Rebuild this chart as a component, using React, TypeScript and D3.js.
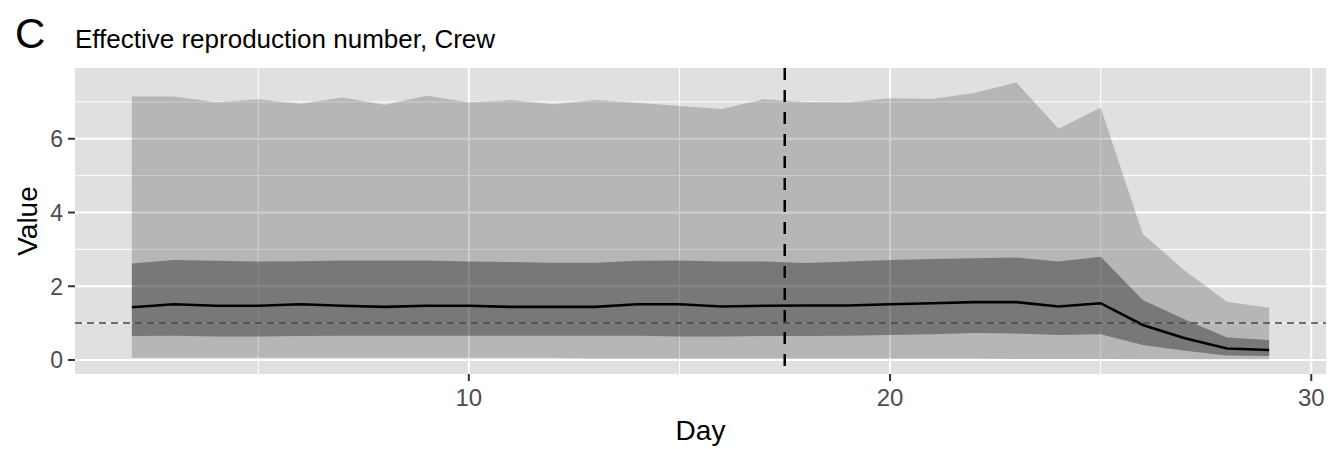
import React from 'react'
import { scaleLinear, area, line, range } from 'd3'

// days and posterior summaries of Rt
const days = range(2, 30)
const outerUpper = [7.15, 7.15, 6.99, 7.07, 6.95, 7.12, 6.92, 7.17, 6.99, 7.05, 6.94, 7.05, 6.98, 6.89, 6.81, 7.07, 7.0, 6.99, 7.1, 7.08, 7.24, 7.53, 6.27, 6.85, 3.42, 2.42, 1.58, 1.42]
const outerLower = [0.06, 0.06, 0.06, 0.06, 0.06, 0.06, 0.06, 0.06, 0.06, 0.06, 0.06, 0.04, 0.04, 0.04, 0.04, 0.04, 0.04, 0.04, 0.04, 0.04, 0.04, 0.03, 0.03, 0.03, 0.02, 0.02, 0.02, 0.02]
const innerUpper = [2.62, 2.71, 2.69, 2.67, 2.68, 2.7, 2.7, 2.7, 2.67, 2.66, 2.64, 2.64, 2.69, 2.7, 2.67, 2.67, 2.63, 2.67, 2.71, 2.74, 2.76, 2.78, 2.67, 2.8, 1.63, 1.1, 0.61, 0.54]
const innerLower = [0.65, 0.66, 0.64, 0.64, 0.65, 0.66, 0.66, 0.66, 0.66, 0.66, 0.66, 0.66, 0.66, 0.64, 0.64, 0.65, 0.65, 0.66, 0.68, 0.7, 0.73, 0.72, 0.68, 0.7, 0.41, 0.25, 0.12, 0.11]
const median = [1.43, 1.51, 1.47, 1.47, 1.51, 1.47, 1.44, 1.47, 1.47, 1.44, 1.44, 1.44, 1.51, 1.51, 1.45, 1.47, 1.48, 1.48, 1.51, 1.54, 1.57, 1.57, 1.45, 1.54, 0.95, 0.59, 0.31, 0.27]

const xTicks = [10, 20, 30]
const xMinor = [5, 15, 25]
const yTicks = [0, 2, 4, 6]
const yMinor = [1, 3, 5, 7]
const cutoffDay = 17.5
const threshold = 1

const W = 1330
const H = 449
const panel = { left: 75, right: 1326, top: 68, bottom: 374 }
const font = 'Liberation Sans, Arial, Helvetica, sans-serif'

export default function App() {
  const x = scaleLinear().domain([0.65, 30.35]).range([panel.left, panel.right])
  const y = scaleLinear().domain([-0.38, 7.92]).range([panel.bottom, panel.top])

  const rows = days.map((d, i) => ({
    d,
    ou: outerUpper[i],
    ol: outerLower[i],
    iu: innerUpper[i],
    il: innerLower[i],
    m: median[i],
  }))
  type Row = (typeof rows)[number]

  const outerArea = area<Row>()
    .x((r) => x(r.d))
    .y0((r) => y(r.ol))
    .y1((r) => y(r.ou))
  const innerArea = area<Row>()
    .x((r) => x(r.d))
    .y0((r) => y(r.il))
    .y1((r) => y(r.iu))
  const medLine = line<Row>()
    .x((r) => x(r.d))
    .y((r) => y(r.m))

  return (
    <div style={{ position: 'absolute', left: 0, top: 0 }}>
      <svg width={W} height={H} style={{ display: 'block', background: '#fff' }} fontFamily={font}>
        {/* panel */}
        <rect x={panel.left} y={panel.top} width={panel.right - panel.left} height={panel.bottom - panel.top} fill="#e0e0e0" />
        {xMinor.map((t) => (
          <line key={'xm' + t} x1={x(t)} x2={x(t)} y1={panel.top} y2={panel.bottom} stroke="#fff" strokeWidth={1} />
        ))}
        {yMinor.map((t) => (
          <line key={'ym' + t} x1={panel.left} x2={panel.right} y1={y(t)} y2={y(t)} stroke="#fff" strokeWidth={1} />
        ))}
        {xTicks.map((t) => (
          <line key={'xg' + t} x1={x(t)} x2={x(t)} y1={panel.top} y2={panel.bottom} stroke="#fff" strokeWidth={2} />
        ))}
        {yTicks.map((t) => (
          <line key={'yg' + t} x1={panel.left} x2={panel.right} y1={y(t)} y2={y(t)} stroke="#fff" strokeWidth={2} />
        ))}

        {/* credible bands */}
        <path d={outerArea(rows) ?? ''} fill="#000" fillOpacity={0.19} />
        <path d={innerArea(rows) ?? ''} fill="#000" fillOpacity={0.34} />
        <path d={medLine(rows) ?? ''} fill="none" stroke="#000" strokeWidth={2.6} />

        {/* reference lines */}
        <line x1={panel.left} x2={panel.right} y1={y(threshold)} y2={y(threshold)} stroke="#444" strokeWidth={1.5} strokeDasharray="7 5" />
        <line x1={x(cutoffDay)} x2={x(cutoffDay)} y1={panel.top} y2={panel.bottom} stroke="#000" strokeWidth={2.5} strokeDasharray="12 10" />

        {/* y axis */}
        {yTicks.map((t) => (
          <g key={'yt' + t}>
            <line x1={panel.left - 7} x2={panel.left} y1={y(t)} y2={y(t)} stroke="#333" strokeWidth={2} />
            <text x={panel.left - 12} y={y(t)} dy="0.36em" textAnchor="end" fontSize={23} fill="#4d4d4d">
              {t}
            </text>
          </g>
        ))}
        <text transform={`translate(37, ${(panel.top + panel.bottom) / 2}) rotate(-90)`} textAnchor="middle" fontSize={28} fill="#000">
          Value
        </text>

        {/* x axis */}
        {xTicks.map((t) => (
          <g key={'xt' + t}>
            <line x1={x(t)} x2={x(t)} y1={panel.bottom} y2={panel.bottom + 7} stroke="#333" strokeWidth={2} />
            <text x={x(t)} y={panel.bottom + 32} textAnchor="middle" fontSize={24} fill="#4d4d4d">
              {t}
            </text>
          </g>
        ))}
        <text x={(panel.left + panel.right) / 2} y={440} textAnchor="middle" fontSize={28} fill="#000">
          Day
        </text>

        {/* titles */}
        <text x={15} y={48} fontSize={42} fill="#000">
          C
        </text>
        <text x={75} y={48} fontSize={26} fill="#000">
          Effective reproduction number, Crew
        </text>
      </svg>
    </div>
  )
}
